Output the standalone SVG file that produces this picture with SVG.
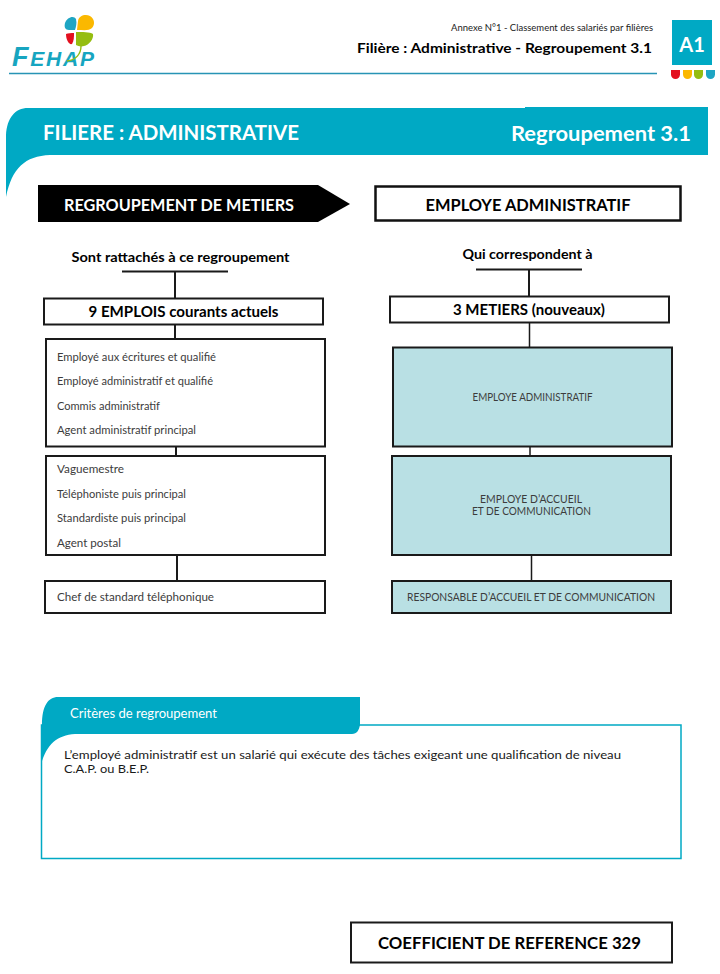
<svg xmlns="http://www.w3.org/2000/svg" width="720" height="974" viewBox="0 0 720 974">
<style>
text{font-family:"Lato","Open Sans","Liberation Sans",sans-serif;fill:#1a1a1a}
.b{font-weight:700;fill:#000}
.item{font-size:10.500px;fill:#3c3c3c}
.box{fill:#fff;stroke:#1a1a1a;stroke-width:2}
.teal{fill:#b9e0e4;stroke:#1a1a1a;stroke-width:2}
.conn{stroke:#1a1a1a;stroke-width:2;fill:none}
.w{fill:#fff;font-weight:700}
</style>
<rect width="720" height="974" fill="#fff"/>
<g id="logo">
<path d="M65 23C67 17 74 15 76 19C77 23 76 27 75 30L69 30C65 30 64 27 65 23Z" fill="#1ea5c3"/>
<path d="M78 21C79 15 86 14 90 16C95 19 95 25 92 28C89 31 84 30 77 30Z" fill="#fbb800"/>
<path d="M66 34C68 33 71 33 74 33C74 37 74 41 72 44C69 45 66 40 66 34Z" fill="#e3101f"/>
<path d="M76 32C82 32 90 32 93 34C94 39 89 45 84 46C81 47 78 46 76 45Z" fill="#95bd10"/>
<text x="12" y="66" font-style="italic" font-weight="700" textLength="82" lengthAdjust="spacing" style="font-family:'Liberation Sans',sans-serif;fill:#17a5c0"><tspan font-size="27">F</tspan><tspan font-size="21">EHAP</tspan></text>
<path d="M81 46C81 54 76 60 67 61" fill="none" stroke="#95bd10" stroke-width="1.400"/>
</g>
<g id="header">
<path d="M9 73.500H657" stroke="#2794b5" stroke-width="1.500"/>
<text x="653" y="31" font-size="9" text-anchor="end" textLength="202" lengthAdjust="spacingAndGlyphs">Annexe N°1 - Classement des salariés par filières</text>
<text x="652" y="53" font-size="14" text-anchor="end" class="b" textLength="295" lengthAdjust="spacingAndGlyphs">Filière : Administrative - Regroupement 3.1</text>
<rect x="672" y="20" width="40" height="45" fill="#00a9c4"/>
<text x="692" y="52" font-size="20" text-anchor="middle" class="w">A1</text>
<path d="M671 70H680V74.500A4.500 4.500 0 0 1 671 74.500Z" fill="#e3101f"/>
<path d="M683 70H692V74.500A4.500 4.500 0 0 1 683 74.500Z" fill="#fbb800"/>
<path d="M694 70H703V74.500A4.500 4.500 0 0 1 694 74.500Z" fill="#95bd10"/>
<path d="M706 70H715V74.500A4.500 4.500 0 0 1 706 74.500Z" fill="#1ea5c3"/>
</g>
<g id="banner">
<path d="M6 197V135C7 118 15 108 28 108H525V107H708V155H50C25 156 12 168 6 197Z" fill="#00a9c4"/>
<text x="43" y="140" font-size="21" class="w" textLength="256" lengthAdjust="spacingAndGlyphs">FILIERE : ADMINISTRATIVE</text>
<text x="691" y="141" font-size="21" text-anchor="end" class="w" textLength="180" lengthAdjust="spacingAndGlyphs">Regroupement 3.1</text>
</g>
<g id="connectors">
<path class="conn" d="M122 271.500H228M175 271V298M175 325V339M176 446V456M177 555V581"/>
<path class="conn" d="M476 269.500H582M529 269V296"/>
<path class="conn" style="stroke-width:1.500px" d="M529.500 322V347M530 447V456M531.500 555V581"/>
</g>
<g id="regroupement"><path d="M38 185H318L350 204L318 222H38Z" fill="#000"/>
<text x="64" y="211" font-size="17.500" class="w" textLength="230" lengthAdjust="spacingAndGlyphs">REGROUPEMENT DE METIERS</text></g>
<g id="employe"><rect x="375.500" y="186.500" width="305" height="34" fill="#fff" stroke="#111" stroke-width="2.500"/>
<text x="528" y="211" font-size="17.500" text-anchor="middle" class="b" textLength="205" lengthAdjust="spacingAndGlyphs">EMPLOYE ADMINISTRATIF</text></g>
<g id="left-title"><text x="180.500" y="262" font-size="13.500" text-anchor="middle" class="b" textLength="218" lengthAdjust="spacingAndGlyphs">Sont rattachés à ce regroupement</text></g>
<g id="right-title"><text x="527.500" y="259" font-size="13.500" text-anchor="middle" class="b" textLength="130" lengthAdjust="spacingAndGlyphs">Qui correspondent à</text></g>
<g id="emplois"><rect class="box" x="44" y="298.500" width="279" height="26"/>
<text x="183.500" y="317" font-size="14.500" text-anchor="middle" class="b" textLength="190" lengthAdjust="spacingAndGlyphs">9 EMPLOIS courants actuels</text></g>
<g id="metiers"><rect class="box" x="390" y="296.500" width="279" height="26"/>
<text x="529" y="315" font-size="14.500" text-anchor="middle" class="b" textLength="152" lengthAdjust="spacingAndGlyphs">3 METIERS (nouveaux)</text></g>
<g id="emplois-1"><rect class="box" x="46" y="339" width="279" height="107.500"/>
<text class="item" x="57" y="361" textLength="159" lengthAdjust="spacingAndGlyphs">Employé aux écritures et qualifié</text>
<text class="item" x="57" y="385" textLength="156" lengthAdjust="spacingAndGlyphs">Employé administratif et qualifié</text>
<text class="item" x="57" y="410" textLength="103" lengthAdjust="spacingAndGlyphs">Commis administratif</text>
<text class="item" x="57" y="434" textLength="139" lengthAdjust="spacingAndGlyphs">Agent administratif principal</text></g>
<g id="emplois-2"><rect class="box" x="46" y="456" width="279" height="99"/>
<text class="item" x="57" y="473" textLength="67" lengthAdjust="spacingAndGlyphs">Vaguemestre</text>
<text class="item" x="57" y="498" textLength="129" lengthAdjust="spacingAndGlyphs">Téléphoniste puis principal</text>
<text class="item" x="57" y="522" textLength="129" lengthAdjust="spacingAndGlyphs">Standardiste puis principal</text>
<text class="item" x="57" y="547" textLength="64" lengthAdjust="spacingAndGlyphs">Agent postal</text></g>
<g id="emplois-3"><rect class="box" x="45" y="581" width="280" height="32"/>
<text class="item" x="57" y="601" textLength="157" lengthAdjust="spacingAndGlyphs">Chef de standard téléphonique</text></g>
<g id="metier-1"><rect class="teal" x="393" y="347.500" width="279" height="99"/>
<text class="item" x="532.500" y="401" text-anchor="middle" textLength="120" lengthAdjust="spacingAndGlyphs">EMPLOYE ADMINISTRATIF</text></g>
<g id="metier-2"><rect class="teal" x="392" y="456" width="279" height="99"/>
<text class="item" x="531" y="503" text-anchor="middle" textLength="102" lengthAdjust="spacingAndGlyphs">EMPLOYE D’ACCUEIL</text>
<text class="item" x="531.500" y="515" text-anchor="middle" textLength="119" lengthAdjust="spacingAndGlyphs">ET DE COMMUNICATION</text></g>
<g id="metier-3"><rect class="teal" x="392" y="581" width="279" height="32"/>
<text class="item" x="531" y="601" text-anchor="middle" textLength="248" lengthAdjust="spacingAndGlyphs">RESPONSABLE D’ACCUEIL ET DE COMMUNICATION</text></g>
<g id="criteres">
<rect x="41.500" y="725" width="639.500" height="133.500" fill="#fff" stroke="#00a9c4" stroke-width="1.500"/>
<path d="M41 765V725H42C42 706 48 697 58 697H360V725C359 730 357 734 352 734H75C57 735 46 745 41 765Z" fill="#00a9c4"/>
<text x="70" y="718" font-size="12.500" style="fill:#fff" textLength="147" lengthAdjust="spacingAndGlyphs">Critères de regroupement</text>
<text x="64" y="759" font-size="12" textLength="557" lengthAdjust="spacingAndGlyphs">L’employé administratif est un salarié qui exécute des tâches exigeant une qualification de niveau</text>
<text x="64" y="773" font-size="12" textLength="85" lengthAdjust="spacingAndGlyphs">C.A.P. ou B.E.P.</text>
</g>
<g id="coefficient"><rect x="351" y="922.500" width="321" height="40" fill="#fff" stroke="#1a1a1a" stroke-width="2"/>
<text x="509.500" y="949" font-size="17.500" text-anchor="middle" class="b" textLength="263" lengthAdjust="spacingAndGlyphs">COEFFICIENT DE REFERENCE 329</text></g>
</svg>
